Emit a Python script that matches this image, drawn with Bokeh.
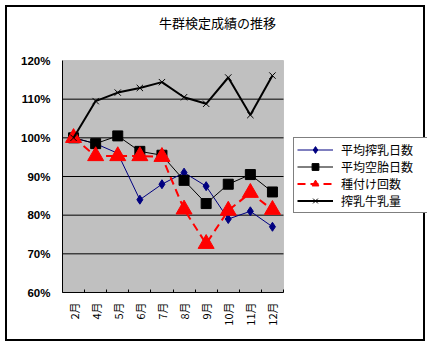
import math
from bokeh.plotting import figure
from bokeh.models import (FixedTicker, Legend, LegendItem, PrintfTickFormatter,
                          BoxAnnotation, Label)
from bokeh.embed import file_html
from bokeh.resources import INLINE

months = ["2月", "4月", "5月", "6月", "7月", "8月", "9月", "10月", "11月", "12月"]
avg_milking_days = [100, 98.5, 96, 84, 88, 91, 87.5, 79, 81, 77]
avg_open_days = [100, 98.5, 100.5, 96.5, 95.5, 89, 83, 88, 90.5, 86]
insemination_count = [100, 95.3, 95.3, 95.3, 95.1, 81.5, 72.6, 81.2, 85.8, 81.4]
milk_yield = [100, 109.5, 111.7, 112.9, 114.4, 110.5, 108.8, 115.6, 105.9, 116.1]
y_ticks = [60, 70, 80, 90, 100, 110, 120]
series_names = ["平均搾乳日数", "平均空胎日数", "種付け回数", "搾乳牛乳量"]
title_text = "牛群検定成績の推移"

n = len(months)
x = [i + 0.5 for i in range(n)]

# layout (pixels inside the bordered canvas)
W, H = 420, 336
left, bottom = 55, 51
plot_top = 53                     # grey area starts this far below canvas top
plot_w = 221                      # width of the grey plotting area
frame_w = W - left                # frame extends under the legend
frame_h = H - bottom              # frame extends up under the title
plot_h = frame_h - plot_top
x_end = n * frame_w / plot_w
y0, y1 = y_ticks[0], y_ticks[-1]
y_end = y0 + (y1 - y0) * frame_h / plot_h

p = figure(width=W, height=H, output_backend="svg", toolbar_location=None,
           x_range=(0, x_end), y_range=(y0, y_end),
           min_border_left=left, min_border_right=0, min_border_top=0,
           min_border_bottom=bottom)
p.styles = {"border": "2px solid black", "margin-left": "5px", "margin-top": "5px"}
p.background_fill_color = "white"
p.border_fill_color = "white"
p.outline_line_color = None

# grey plotting area
p.add_layout(BoxAnnotation(left=0, right=n, bottom=y0, top=y1,
                           fill_color="#C0C0C0", fill_alpha=1,
                           line_color="#808080", line_width=1, level="image"))

# title
p.add_layout(Label(x=155, y=frame_h - 15, x_units="screen", y_units="screen",
                   text=title_text, text_align="center", text_baseline="middle",
                   text_font="Noto Sans CJK JP", text_font_size="13px",
                   text_color="black"))

# axes
p.yaxis.bounds = (y0, y1)
p.yaxis.ticker = FixedTicker(ticks=y_ticks)
p.yaxis.formatter = PrintfTickFormatter(format="%d%%")
p.yaxis.major_label_text_font = "Liberation Sans"
p.yaxis.major_label_text_font_style = "bold"
p.yaxis.major_label_text_font_size = "11.5px"
p.yaxis.major_label_text_color = "black"
p.yaxis.major_tick_out = 0
p.yaxis.major_tick_in = 0
p.yaxis.minor_tick_out = 0
p.yaxis.minor_tick_in = 0
p.yaxis.major_label_standoff = 12
p.yaxis.axis_line_color = "black"

p.xaxis.bounds = (0, n)
p.xaxis.ticker = FixedTicker(ticks=x, minor_ticks=list(range(n + 1)))
p.xaxis.major_label_overrides = {xi: m for xi, m in zip(x, months)}
p.xaxis.major_label_orientation = math.pi / 2
p.xaxis.major_label_text_font = "Noto Sans CJK JP"
p.xaxis.major_label_text_font_size = "11px"
p.xaxis.major_label_text_color = "black"
p.xaxis.major_tick_in = 0
p.xaxis.major_tick_out = 0
p.xaxis.minor_tick_in = 3
p.xaxis.minor_tick_out = 0
p.xaxis.minor_tick_line_color = "black"
p.xaxis.major_label_standoff = 10
p.xaxis.axis_line_color = "black"

p.xgrid.grid_line_color = None
p.ygrid.grid_line_color = None

# horizontal gridlines limited to the plotting area
inner = y_ticks[1:-1]
p.segment(x0=[0] * len(inner), x1=[n] * len(inner), y0=inner, y1=inner,
          line_color="black", line_width=1)

# series
l1 = p.line(x, avg_milking_days, line_color="#000080", line_width=1)
s1 = p.scatter(x, avg_milking_days, marker="diamond", size=9, fill_color="#000080",
               line_color="#000080")
l2 = p.line(x, avg_open_days, line_color="black", line_width=1)
s2 = p.scatter(x, avg_open_days, marker="square", size=10, fill_color="black",
               line_color="black")
l3 = p.line(x, insemination_count, line_color="#FF0000", line_width=2, line_dash="8 5")
s3 = p.scatter(x, insemination_count, marker="triangle", size=16, fill_color="#FF0000",
               line_color="#FF0000")
l4 = p.line(x, milk_yield, line_color="black", line_width=2)
s4 = p.scatter(x, milk_yield, marker="x", size=9, line_color="black", line_width=1)

legend = Legend(items=[
    LegendItem(label=series_names[0], renderers=[l1, s1]),
    LegendItem(label=series_names[1], renderers=[l2, s2]),
    LegendItem(label=series_names[2], renderers=[l3, s3]),
    LegendItem(label=series_names[3], renderers=[l4, s4]),
], location=(231, 79))
legend.border_line_color = "black"
legend.border_line_width = 1
legend.background_fill_color = "white"
legend.background_fill_alpha = 1
legend.label_text_font = "Noto Sans CJK JP"
legend.label_text_font_size = "12px"
legend.label_text_color = "black"
legend.glyph_width = 36
legend.glyph_height = 17
legend.label_height = 17
legend.label_width = 83
legend.label_standoff = 8
legend.spacing = 0
legend.padding = 3
legend.margin = 0
p.add_layout(legend, "center")

open("out.html", "w").write(file_html(p, INLINE))
